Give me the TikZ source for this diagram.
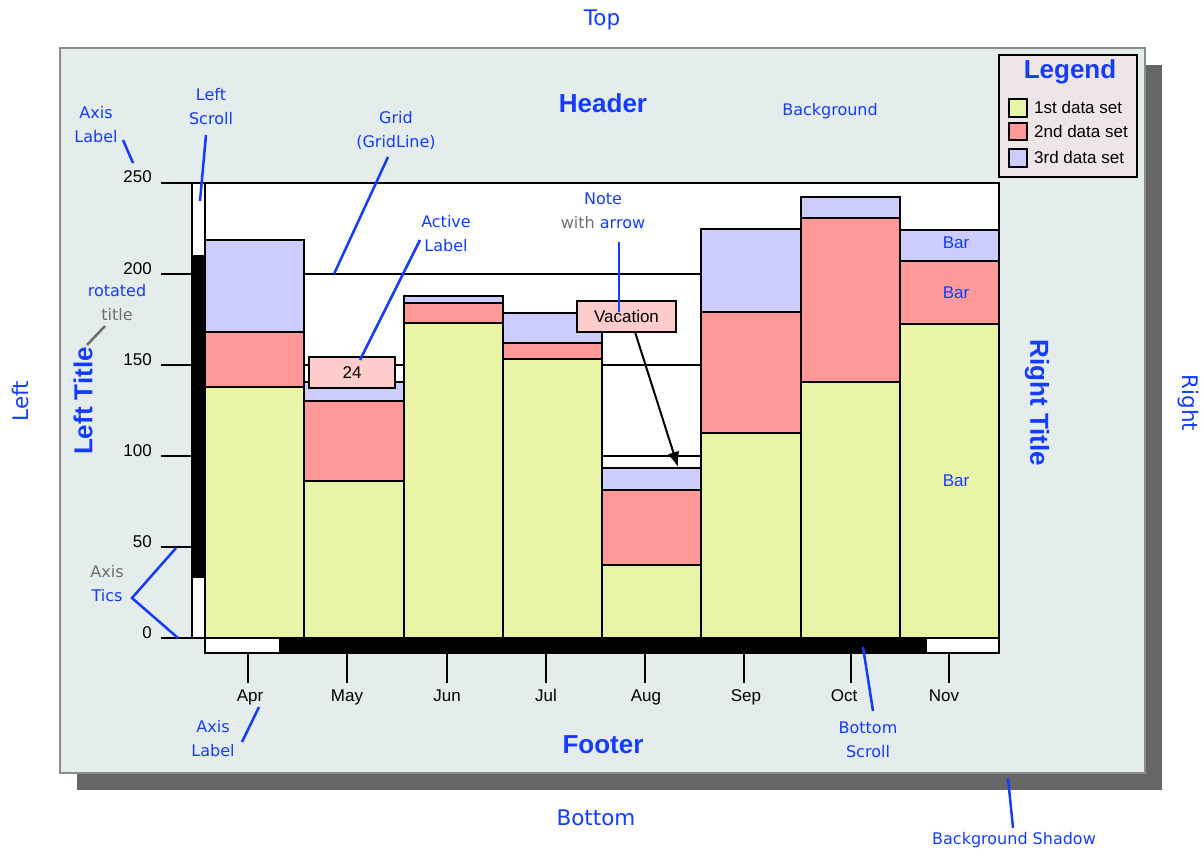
\documentclass[tikz,border=0pt]{standalone}
\usepackage{fontspec}
\setmainfont{Liberation Sans}
\newfontfamily\comicfont{DejaVu Sans}
\usetikzlibrary{arrows.meta}
\definecolor{bgpanel}{RGB}{228,236,236}
\definecolor{shadowc}{RGB}{102,102,102}
\definecolor{panelborder}{RGB}{140,140,140}
\definecolor{cone}{RGB}{234,244,166}
\definecolor{ctwo}{RGB}{255,153,153}
\definecolor{cthree}{RGB}{204,204,255}
\definecolor{legbg}{RGB}{238,230,230}
\definecolor{notebg}{RGB}{255,204,204}
\definecolor{annblue}{RGB}{20,60,255}
\definecolor{anngray}{RGB}{110,110,110}
\tikzset{
  txt/.style={font=\fontsize{17}{20}\selectfont, inner sep=0pt},
  ttl/.style={font=\fontsize{26}{30}\selectfont\bfseries, text=annblue, inner sep=0pt},
  ann/.style={font=\comicfont\fontsize{16}{24}\selectfont, text=annblue, inner sep=0pt, align=center},
  bigann/.style={font=\comicfont\fontsize{21.5}{26}\selectfont, text=annblue, inner sep=0pt},
  annline/.style={annblue, line width=2.5pt},
  barbox/.style={draw=black, line width=2pt},
  notebox/.style={draw=black, line width=2pt, fill=notebg, font=\fontsize{17}{20}\selectfont, inner sep=0pt},
  swatch/.style={draw=black, line width=2pt},
}
\begin{document}
\begin{tikzpicture}[x=1pt,y=-1pt]
\useasboundingbox (0,0) rectangle (1201,850);
% background + shadow
\fill[shadowc] (77,65) rectangle (1162,790);
\draw[panelborder, line width=2pt, fill=bgpanel] (60,48) rectangle (1145,773);
% plot area
\fill[white] (205,183) rectangle (999,638);
\foreach \gy in {274,365,456,547} \draw[line width=2pt] (205,\gy) -- (999,\gy);
% bars
\foreach \i/\ya/\yb/\yc in {0/387/332/240, 1/481/401/382, 2/323/303/296, 3/359/343/313, 4/565/490/468, 5/433/312/229, 6/382/218/197, 7/324/261/230} {
  \pgfmathsetmacro\xl{205+99.25*\i}
  \pgfmathsetmacro\xr{\xl+99.25}
  \draw[barbox, fill=cone] (\xl,638) rectangle (\xr,\ya);
  \draw[barbox, fill=ctwo] (\xl,\ya) rectangle (\xr,\yb);
  \draw[barbox, fill=cthree] (\xl,\yb) rectangle (\xr,\yc);
}
\draw[line width=2pt] (205,183) rectangle (999,638);
% left scroll
\draw[line width=2pt, fill=white] (192,183) rectangle (205,638);
\fill[black] (192,255) rectangle (205,578);
% bottom scroll
\draw[line width=2pt, fill=white] (205,638) rectangle (999,653);
\fill[black] (279,638) rectangle (927,653);
% y ticks
\foreach \yy/\lab in {183/250, 274/200, 365/150, 456/100, 547/50, 638/0} {
  \draw[line width=2pt] (161,\yy) -- (192,\yy);
  \node[txt, anchor=base east] (yl\lab) at (152,\yy) {\lab};
}
% x ticks
\foreach \tx/\lx/\m in {248/250/Apr, 347/347/May, 447/447/Jun, 546/546/Jul, 645/646/Aug, 744/746/Sep, 851/844/Oct, 949/944/Nov} {
  \draw[line width=2pt] (\tx,653) -- (\tx,683);
  \node[txt, anchor=base] (xl\m) at (\lx,701) {\m};
}
% titles
\node[ttl] (header) at (603,103) {Header};
\node[ttl] (footer) at (603,745) {Footer};
\node[ttl, rotate=90] (lefttitle) at (83,401) {Left Title};
\node[ttl, rotate=-90] (righttitle) at (1037,403) {Right Title};
% bar labels
\node[txt, text=annblue, anchor=base] (bar1) at (956,249) {Bar};
\node[txt, text=annblue, anchor=base] (bar2) at (956,298) {Bar};
\node[txt, text=annblue, anchor=base] (bar3) at (956,486) {Bar};
% legend
\draw[line width=2pt, fill=legbg] (999,55) rectangle (1137,177);
\node[ttl] (legtitle) at (1070,72) {Legend};
\draw[swatch, fill=cone] (1009,99) rectangle (1027,117);
\draw[swatch, fill=ctwo] (1009,123) rectangle (1027,140);
\draw[swatch, fill=cthree] (1009,149) rectangle (1027,167);
\node[txt, anchor=base west] (leg1) at (1034,114) {1st data set};
\node[txt, anchor=base west] (leg2) at (1034,138) {2nd data set};
\node[txt, anchor=base west] (leg3) at (1034,164) {3rd data set};
% note and active label
\node[notebox, minimum width=99pt, minimum height=31pt] (vac) at (626.5,316.5) {Vacation};
\node[notebox, minimum width=86pt, minimum height=31pt] (act) at (352,372.5) {24};
\coordinate (vacfrom) at (635,332);
\coordinate (vacto) at (678,467);
\draw[line width=2pt, -{Latex[length=15pt,width=12pt]}] (vacfrom) -- (vacto);
% annotations
\node[bigann] (top) at (602,20) {Top};
\node[bigann] (bottom) at (596,818) {Bottom};
\node[bigann, rotate=90] (left) at (20,401) {Left};
\node[bigann, rotate=-90] (right) at (1188,403) {Right};
\node[ann] (background) at (830,111) {Background};
\node[ann] (bgshadow) at (1014,840) {Background Shadow};
\node[ann] (axlabtop) at (96,125) {Axis\\Label};
\node[ann] (leftscroll) at (211,107) {Left\\Scroll};
\node[ann] (grid) at (396,130) {Grid\\(GridLine)};
\node[ann] (activelab) at (446,234) {Active\\Label};
\node[ann] (note) at (603,211) {Note\\{\color{anngray}with} arrow};
\node[ann] (rotated) at (117,303) {rotated\\{\color{anngray}title}};
\node[ann] (axtics) at (107,584) {{\color{anngray}Axis}\\Tics};
\node[ann] (axlabbot) at (213,739) {Axis\\Label};
\node[ann] (bottomscroll) at (868,740) {Bottom\\Scroll};
% annotation connectors
\coordinate (a1) at (123,140); \coordinate (a2) at (133,163);
\draw[annline] (a1) -- (a2);
\coordinate (b1) at (206,135); \coordinate (b2) at (200,201);
\draw[annline] (b1) -- (b2);
\coordinate (g1) at (388,157); \coordinate (g2) at (334,274);
\draw[annline] (g1) -- (g2);
\coordinate (l1) at (420,240); \coordinate (l2) at (360,360);
\draw[annline] (l1) -- (l2);
\coordinate (n1) at (619,242); \coordinate (n2) at (619,312);
\draw[annline] (n1) -- (n2);
\coordinate (t1) at (105,326); \coordinate (t2) at (87,345);
\draw[anngray, line width=2.5pt] (t1) -- (t2);
\coordinate (k1) at (176,548); \coordinate (k2) at (132,598); \coordinate (k3) at (178,638);
\draw[annline] (k1) -- (k2) -- (k3);
\coordinate (m1) at (259,707); \coordinate (m2) at (242,742);
\draw[annline] (m1) -- (m2);
\coordinate (s1) at (863,647); \coordinate (s2) at (873,711);
\draw[annline] (s1) -- (s2);
\coordinate (h1) at (1008,778); \coordinate (h2) at (1013,828);
\draw[annline] (h1) -- (h2);
\end{tikzpicture}
\end{document}
